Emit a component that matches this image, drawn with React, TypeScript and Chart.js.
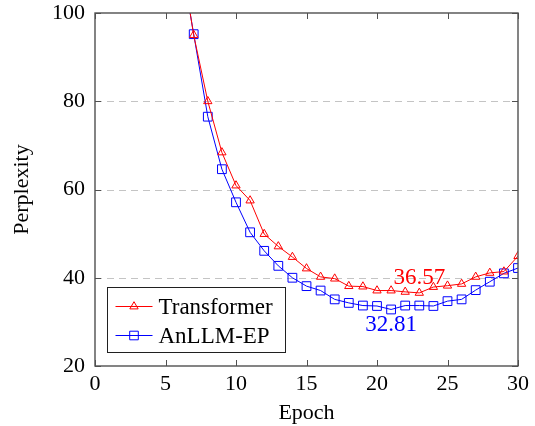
import React, { useEffect, useRef } from 'react';
import { Chart, registerables } from 'chart.js';

Chart.register(...registerables);

// ---- data ----
const epochs = [6, 7, 8, 9, 10, 11, 12, 13, 14, 15, 16, 17, 18, 19, 20, 21, 22, 23, 24, 25, 26, 27, 28, 29, 30];
const transformer = [115, 95, 80.0, 68.4, 60.9, 57.5, 49.9, 47.1, 44.7, 42.1, 40.2, 39.8, 38.1, 38.0, 37.1, 37.1, 36.8, 36.57, 37.9, 38.2, 38.6, 40.2, 41.1, 41.4, 44.9];
const anllmEP = [114, 95.2, 76.5, 64.6, 57.1, 50.3, 46.1, 42.7, 40.0, 38.1, 37.1, 35.1, 34.3, 33.7, 33.6, 32.81, 33.7, 33.7, 33.6, 34.7, 35.1, 37.2, 39.1, 41.0, 42.2];
const seriesNames = ['Transformer', 'AnLLM-EP'];
const seriesColors = ['#ff0000', '#0000ff'];
const seriesMarkers = ['triangle', 'rect'];
const xTickValues = [0, 5, 10, 15, 20, 25, 30];
const yTickValues = [20, 40, 60, 80, 100];
const yGridValues = [40, 60, 80];
const annotationTexts = ['36.57', '32.81'];
const annotationX = [23, 21];
const annotationY = [40, 29.3];
const xLabel = 'Epoch';
const yLabel = 'Perplexity';

const FONT_FAMILY = "'Liberation Serif', 'Times New Roman', serif";
const FONT_SIZE = 22;

function markerPath(ctx: CanvasRenderingContext2D, kind: string, x: number, y: number) {
  ctx.beginPath();
  if (kind === 'triangle') {
    const r = 4.8;
    for (let i = 0; i < 3; i++) {
      const a = (i * 2 * Math.PI) / 3;
      const px = x + Math.sin(a) * r;
      const py = y - Math.cos(a) * r;
      if (i === 0) ctx.moveTo(px, py);
      else ctx.lineTo(px, py);
    }
    ctx.closePath();
  } else {
    const s = 4.3;
    ctx.rect(x - s, y - s, 2 * s, 2 * s);
  }
}

const framePlugin = {
  id: 'framePlugin',
  beforeDatasetsDraw(chart: any) {
    const { ctx, chartArea, scales } = chart;
    const { left, right } = chartArea;
    ctx.save();
    ctx.strokeStyle = '#c4c4c4';
    ctx.lineWidth = 1;
    ctx.setLineDash([7, 5]);
    for (const v of yGridValues) {
      const py = Math.round(scales.y.getPixelForValue(v)) + 0.5;
      ctx.beginPath();
      ctx.moveTo(left, py);
      ctx.lineTo(right, py);
      ctx.stroke();
    }
    ctx.restore();
  },
  afterDatasetsDraw(chart: any) {
    const { ctx, chartArea, scales } = chart;
    const { left, right, top, bottom } = chartArea;
    ctx.save();
    // annotations
    ctx.font = `${FONT_SIZE + 1}px ${FONT_FAMILY}`;
    ctx.textAlign = 'center';
    ctx.textBaseline = 'middle';
    annotationTexts.forEach((t, i) => {
      ctx.fillStyle = seriesColors[i];
      ctx.fillText(t, scales.x.getPixelForValue(annotationX[i]), scales.y.getPixelForValue(annotationY[i]));
    });

    // frame
    ctx.strokeStyle = '#505050';
    ctx.lineWidth = 1.4;
    ctx.strokeRect(left, top, right - left, bottom - top);
    const tl = 6;
    ctx.beginPath();
    for (const v of xTickValues) {
      const px = Math.round(scales.x.getPixelForValue(v)) + 0.5;
      ctx.moveTo(px, bottom);
      ctx.lineTo(px, bottom - tl);
      ctx.moveTo(px, top);
      ctx.lineTo(px, top + tl);
    }
    for (const v of yTickValues) {
      const py = Math.round(scales.y.getPixelForValue(v)) + 0.5;
      ctx.moveTo(left, py);
      ctx.lineTo(left + tl, py);
      ctx.moveTo(right, py);
      ctx.lineTo(right - tl, py);
    }
    ctx.lineWidth = 1;
    ctx.stroke();

    // legend
    const bx = left + 12.5;
    const bw = 178;
    const bh = 65;
    const by = bottom - 13.5 - bh;
    ctx.fillStyle = '#ffffff';
    ctx.fillRect(bx, by, bw, bh);
    ctx.strokeStyle = '#202020';
    ctx.lineWidth = 1;
    ctx.strokeRect(bx, by, bw, bh);
    ctx.font = `${FONT_SIZE + 1}px ${FONT_FAMILY}`;
    ctx.textAlign = 'left';
    ctx.textBaseline = 'middle';
    seriesNames.forEach((name, i) => {
      const ry = by + 19 + i * 29;
      const lx0 = bx + 8;
      const lx1 = bx + 45;
      ctx.strokeStyle = seriesColors[i];
      ctx.lineWidth = 1;
      ctx.beginPath();
      ctx.moveTo(lx0, ry);
      ctx.lineTo(lx1, ry);
      ctx.stroke();
      markerPath(ctx, seriesMarkers[i], (lx0 + lx1) / 2, ry);
      ctx.stroke();
      ctx.fillStyle = '#000000';
      ctx.fillText(name, bx + 51, ry + 1);
    });
    ctx.restore();
  },
};

export default function App() {
  const canvasRef = useRef<HTMLCanvasElement | null>(null);

  useEffect(() => {
    if (!canvasRef.current) return;
    const font = { family: FONT_FAMILY, size: FONT_SIZE };
    const makeData = (vals: number[]) => epochs.map((e, i) => ({ x: e, y: vals[i] }));
    const chart = new Chart(canvasRef.current, {
      type: 'line',
      data: {
        datasets: [
          {
            label: seriesNames[0],
            data: makeData(transformer),
            borderColor: seriesColors[0],
            backgroundColor: 'rgba(0,0,0,0)',
            borderWidth: 1,
            pointStyle: 'triangle',
            pointRadius: 4.8,
            pointBorderWidth: 1,
            pointBorderColor: seriesColors[0],
            pointBackgroundColor: 'rgba(0,0,0,0)',
            tension: 0,
          },
          {
            label: seriesNames[1],
            data: makeData(anllmEP),
            borderColor: seriesColors[1],
            backgroundColor: 'rgba(0,0,0,0)',
            borderWidth: 1,
            pointStyle: 'rect',
            pointRadius: 6.2,
            pointBorderWidth: 1,
            pointBorderColor: seriesColors[1],
            pointBackgroundColor: 'rgba(0,0,0,0)',
            tension: 0,
          },
        ],
      },
      options: {
        responsive: false,
        maintainAspectRatio: false,
        animation: false,
        layout: { padding: { top: 13, right: 17, left: 0, bottom: 0 } },
        plugins: { legend: { display: false }, tooltip: { enabled: false } },
        scales: {
          x: {
            type: 'linear',
            min: 0,
            max: 30,
            grid: { display: false, drawTicks: false },
            border: { display: false },
            ticks: { stepSize: 5, color: '#000', font, padding: 5, maxRotation: 0, autoSkip: false },
            title: { display: true, text: xLabel, color: '#000', font, padding: { top: 0, bottom: 0 } },
            afterFit: (s: any) => {
              s.height = 60;
              s.paddingLeft = 0;
              s.paddingRight = 0;
            },
          },
          y: {
            type: 'linear',
            min: 20,
            max: 100,
            grid: { display: false, drawTicks: false },
            border: { display: false },
            ticks: { stepSize: 20, color: '#000', font, padding: 10 },
            title: { display: true, text: yLabel, color: '#000', font, padding: { top: 9, bottom: 0 } },
            afterFit: (s: any) => {
              s.width = 95;
              s.paddingTop = 0;
              s.paddingBottom = 0;
            },
          },
        },
      },
      plugins: [framePlugin],
    });
    return () => chart.destroy();
  }, []);

  return (
    <div style={{ position: 'fixed', left: 0, top: 0, width: 535, height: 426, background: '#fff' }}>
      <canvas ref={canvasRef} width={535} height={426} style={{ width: 535, height: 426, display: 'block' }} />
    </div>
  );
}
